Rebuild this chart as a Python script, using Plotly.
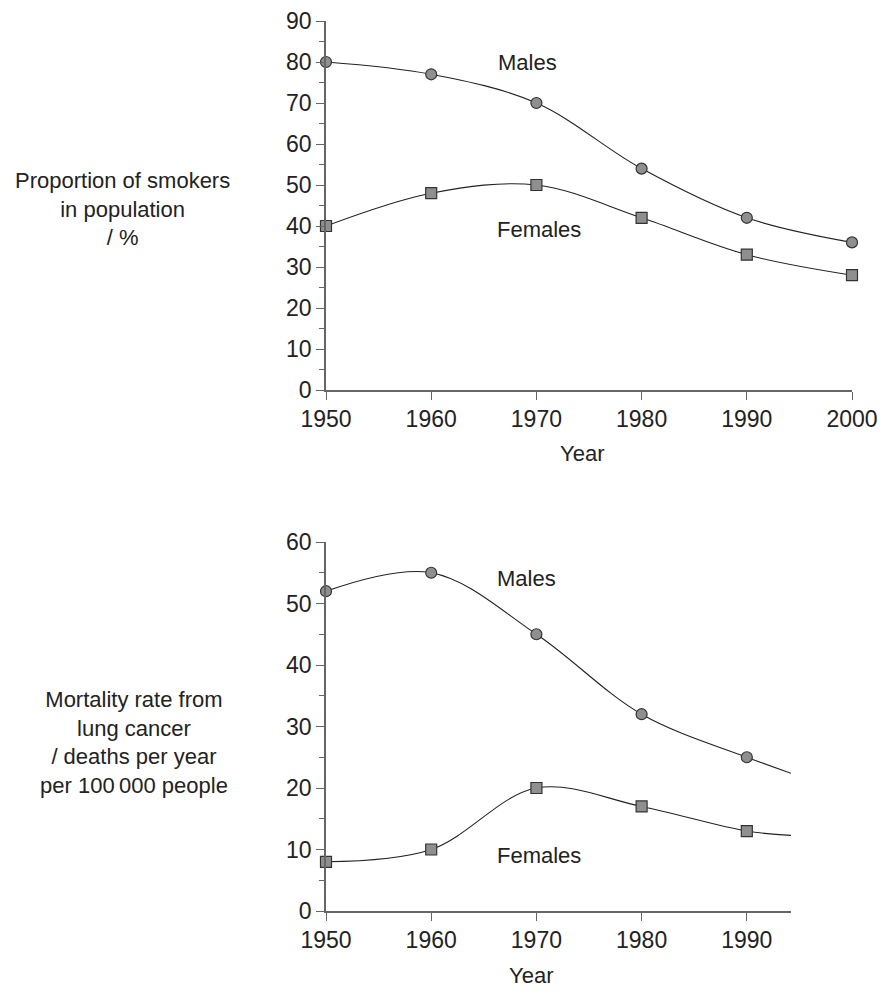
import plotly.graph_objects as go

# ---- data ----
years_top = [1950, 1960, 1970, 1980, 1990, 2000]
smokers_males = [80, 77, 70, 54, 42, 36]
smokers_females = [40, 48, 50, 42, 33, 28]

years_bottom = [1950, 1960, 1970, 1980, 1990]
mort_males = [52, 55, 45, 32, 25]
mort_females = [8, 10, 20, 17, 13]
# where the drawn curves meet the right end of the lower x axis
bottom_end_year = 1994.2
mort_males_end = 22.4
mort_females_end = 12.3

FONT = "Liberation Sans, Arial, sans-serif"
TXT = "#222222"
AX = "#666666"
LINE = "#222222"
MFILL = "#8f8f8f"

fig = go.Figure()

def add_series(x, y, xa, ya, symbol, line_x=None, line_y=None):
    lx = x if line_x is None else line_x
    ly = y if line_y is None else line_y
    fig.add_trace(go.Scatter(x=lx, y=ly, mode="lines", xaxis=xa, yaxis=ya,
                             line=dict(shape="spline", color=LINE, width=1.1),
                             hoverinfo="skip", showlegend=False))
    fig.add_trace(go.Scatter(x=x, y=y, mode="markers", xaxis=xa, yaxis=ya,
                             cliponaxis=False, showlegend=False,
                             marker=dict(symbol=symbol, size=11, color=MFILL,
                                         line=dict(color="#333333", width=1.2))))

add_series(years_top, smokers_males, "x", "y", "circle")
add_series(years_top, smokers_females, "x", "y", "square")
add_series(years_bottom, mort_males, "x2", "y2", "circle",
           years_bottom + [bottom_end_year], mort_males + [mort_males_end])
add_series(years_bottom, mort_females, "x2", "y2", "square",
           years_bottom + [bottom_end_year], mort_females + [mort_females_end])

W, H = 892, 996
def px_x(p):
    return p / W
def px_y(p):
    return 1 - p / H

common = dict(showgrid=False, zeroline=False, showline=True, linecolor=AX,
              linewidth=1.5, ticks="outside", ticklen=8, tickwidth=1.2,
              tickcolor=AX, automargin=False,
              tickfont=dict(family=FONT, size=23, color=TXT))

fig.update_layout(
    width=W, height=H, autosize=False,
    margin=dict(l=0, r=0, t=0, b=0, pad=0),
    paper_bgcolor="white", plot_bgcolor="white",
    xaxis=dict(domain=[px_x(326), px_x(852)], range=[1950, 2000], anchor="y",
               tickvals=years_top, **common),
    yaxis=dict(domain=[px_y(390), px_y(21)], range=[0, 90], anchor="x",
               dtick=10, tick0=0,
               minor=dict(dtick=5, ticklen=5, ticks="outside", tickcolor=AX, tickwidth=1.2),
               **common),
    xaxis2=dict(domain=[px_x(326), px_x(791)], range=[1950, bottom_end_year], anchor="y2",
                tickvals=years_bottom, **common),
    yaxis2=dict(domain=[px_y(911), px_y(542)], range=[0, 60], anchor="x2",
                dtick=10, tick0=0,
                minor=dict(dtick=5, ticklen=5, ticks="outside", tickcolor=AX, tickwidth=1.2),
                **common),
)

def ann(text, x, y, xref, yref, size=22, align="center"):
    fig.add_annotation(text=text, x=x, y=y, xref=xref, yref=yref, showarrow=False,
                       align=align, font=dict(family=FONT, size=size, color=TXT),
                       xanchor="center", yanchor="middle")

ann("Males", 1969.2, 80, "x", "y")
ann("Females", 1970.2, 39.2, "x", "y")
ann("Males", 1969.1, 54, "x2", "y2")
ann("Females", 1970.2, 9, "x2", "y2")

ann("Proportion of smokers<br>in population<br>/ %", px_x(122), px_y(209), "paper", "paper")
ann("Mortality rate from<br>lung cancer<br>/ deaths per year<br>per 100\u2009000 people",
    px_x(134), px_y(742), "paper", "paper")
ann("Year", px_x(582), px_y(453), "paper", "paper")
ann("Year", px_x(531), px_y(975), "paper", "paper")

fig.write_html("out.html")
